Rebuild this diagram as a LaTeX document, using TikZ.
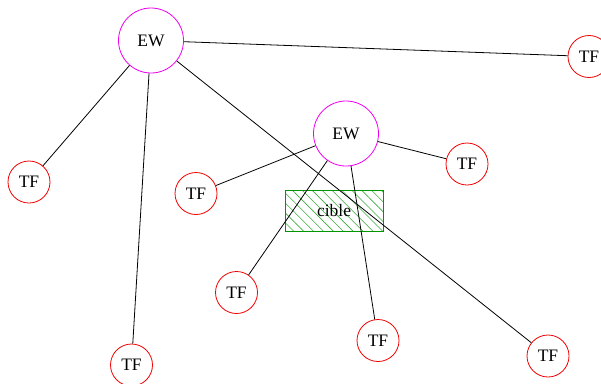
\documentclass[tikz,border=0pt]{standalone}
\usepackage{fontspec}
\setmainfont{Liberation Serif}
\usetikzlibrary{patterns.meta}
\definecolor{ewcol}{RGB}{240,0,240}
\definecolor{tfcol}{RGB}{240,0,0}
\definecolor{cibleborder}{RGB}{0,150,0}
\definecolor{ciblehatch}{RGB}{60,170,60}
\begin{document}
\begin{tikzpicture}[x=1pt,y=-1pt,
  every node/.style={font=\fontsize{17.5}{20}\selectfont},
  ew/.style={circle,draw=ewcol,line width=0.8pt,minimum size=65pt,inner sep=0pt},
  tf/.style={circle,draw=tfcol,line width=0.8pt,minimum size=42pt,inner sep=0pt},
  ciblebox/.style={draw=cibleborder,line width=0.8pt,minimum width=98pt,minimum height=41pt,inner sep=0pt,
    pattern={Lines[angle=-45,distance=7pt,line width=0.6pt]},pattern color=ciblehatch},
  link/.style={draw=black,line width=0.8pt}]
\useasboundingbox (0,0) rectangle (601,383);
\node[ciblebox] (cible) at (334,210.5) {cible};
\node[ew] (ew1) at (151,40.5) {EW};
\node[ew] (ew2) at (346,133.5) {EW};
\node[tf] (tf1) at (589,56.5) {TF};
\node[tf] (tf2) at (29,182) {TF};
\node[tf] (tf3) at (196,193.5) {TF};
\node[tf] (tf4) at (467,164) {TF};
\node[tf] (tf5) at (236.5,292.5) {TF};
\node[tf] (tf6) at (131.5,365) {TF};
\node[tf] (tf7) at (378,340.5) {TF};
\node[tf] (tf8) at (548,356) {TF};
\draw[link] (ew1) -- (tf1);
\draw[link] (ew1) -- (tf2);
\draw[link] (ew1) -- (tf6);
\draw[link] (ew1) -- (tf8);
\draw[link] (ew2) -- (tf3);
\draw[link] (ew2) -- (tf4);
\draw[link] (ew2) -- (tf5);
\draw[link] (ew2) -- (tf7);
\end{tikzpicture}
\end{document}
